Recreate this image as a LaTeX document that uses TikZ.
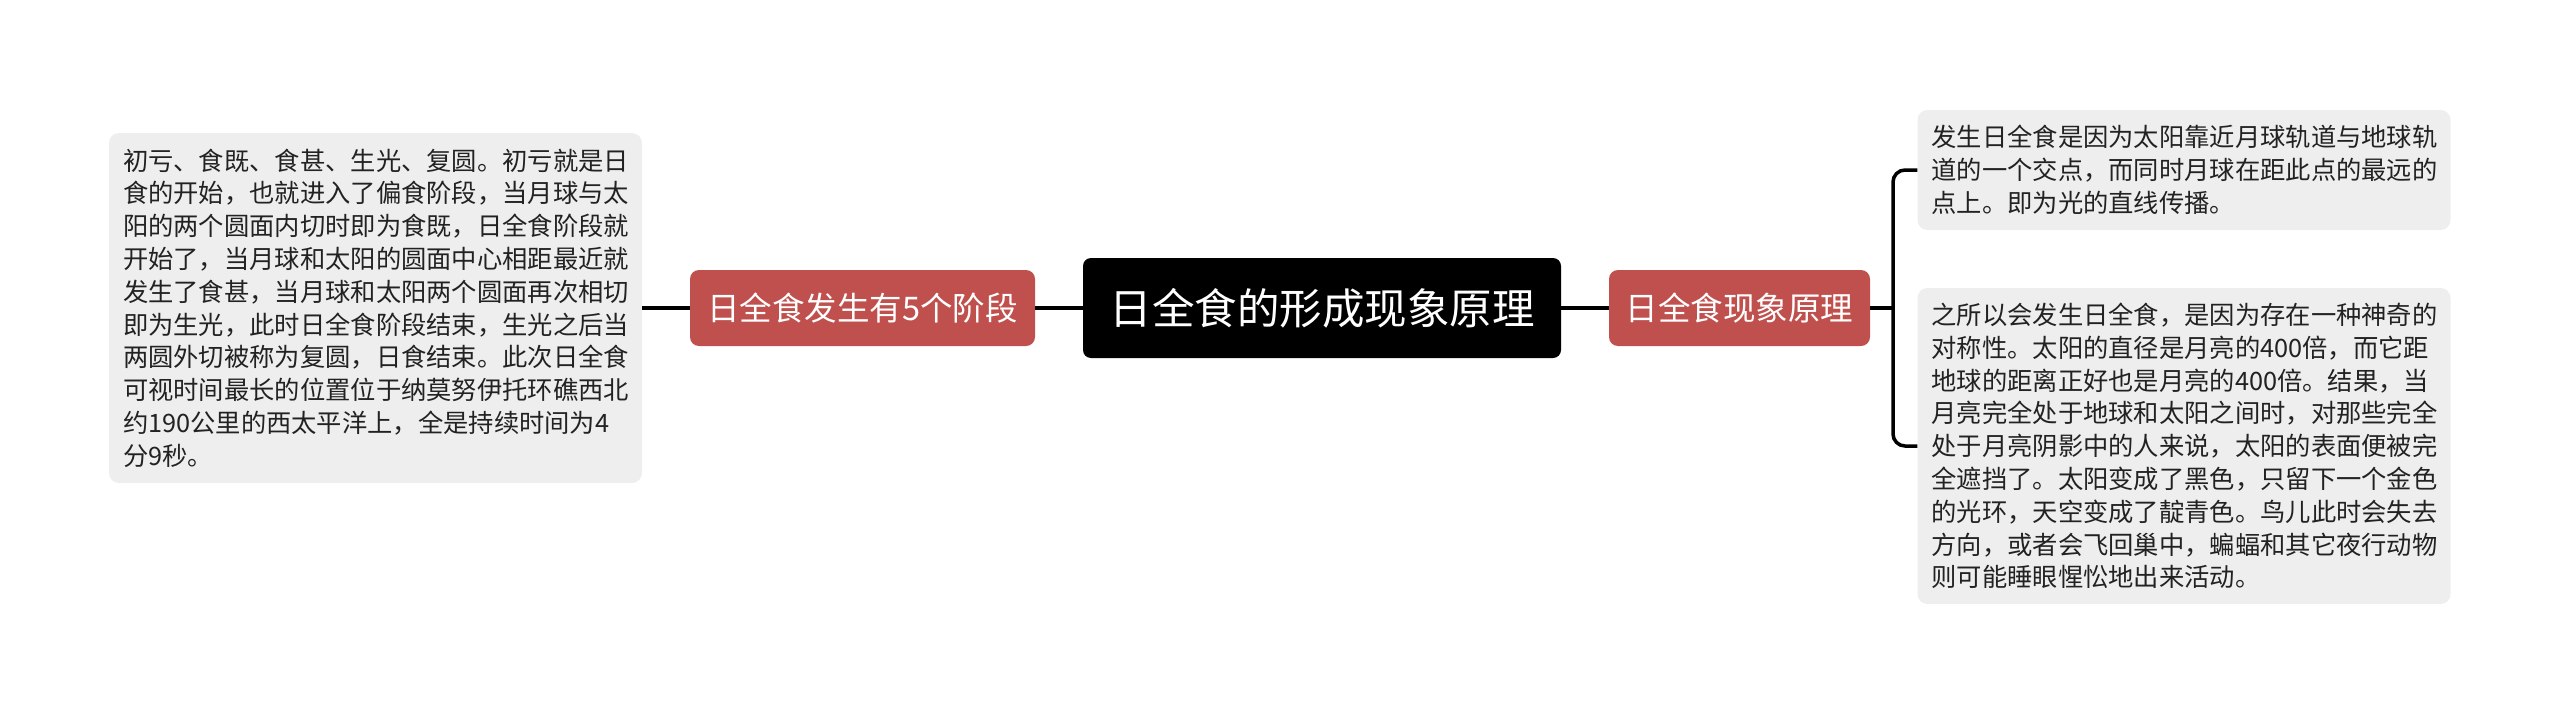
\documentclass[tikz,border=0pt]{standalone}
\usepackage{fontspec}
\newfontfamily\cjk{Noto Sans CJK SC}
\usepackage{tikz}
\definecolor{topicred}{HTML}{C0504D}
\definecolor{notegray}{HTML}{EEEEEE}
\definecolor{notetext}{HTML}{222222}

\begin{document}
\begin{tikzpicture}[x=1pt, y=-1pt,
    rootbox/.style={fill=black, text=white, rounded corners=8pt, minimum width=478pt, minimum height=100pt, inner sep=0pt, font=\cjk\fontsize{42.5}{48}\selectfont},
    topicbox/.style={fill=topicred, text=white, rounded corners=9pt, minimum height=76pt, inner sep=0pt, font=\cjk\fontsize{32.5}{36}\selectfont},
    notebox/.style={fill=notegray, text=notetext, rounded corners=10pt, minimum width=533pt, inner xsep=14pt, inner ysep=0pt, text width=505pt, align=left, font=\cjk\fontsize{25.3}{32.8}\selectfont},
    link/.style={draw=black, line width=3.5pt}]
    \useasboundingbox (0,0) rectangle (2560,715);

    % central topic and the two branches
    \node[rootbox] (root) at (1322, 308) {日全食的形成现象原理};
    \node[topicbox, minimum width=345pt] (stages) at (862.5, 308) {日全食发生有5个阶段};
    \node[topicbox, minimum width=261pt] (cause) at (1739.5, 308) {日全食现象原理};

    % notes
    \node[notebox, minimum height=350pt] (stagesnote) at (375.5, 308) {初亏、食既、食甚、生光、复圆。初亏就是日\\食的开始，也就进入了偏食阶段，当月球与太\\阳的两个圆面内切时即为食既，日全食阶段就\\开始了，当月球和太阳的圆面中心相距最近就\\发生了食甚，当月球和太阳两个圆面再次相切\\即为生光，此时日全食阶段结束，生光之后当\\两圆外切被称为复圆，日食结束。此次日全食\\可视时间最长的位置位于纳莫努伊托环礁西北\\约190公里的西太平洋上，全是持续时间为4\\分9秒。};
    \node[notebox, minimum height=120pt] (causenote1) at (2184, 170) {发生日全食是因为太阳靠近月球轨道与地球轨\\道的一个交点，而同时月球在距此点的最远的\\点上。即为光的直线传播。};
    \node[notebox, minimum height=316pt] (causenote2) at (2184, 446) {之所以会发生日全食，是因为存在一种神奇的\\对称性。太阳的直径是月亮的400倍，而它距\\地球的距离正好也是月亮的400倍。结果，当\\月亮完全处于地球和太阳之间时，对那些完全\\处于月亮阴影中的人来说，太阳的表面便被完\\全遮挡了。太阳变成了黑色，只留下一个金色\\的光环，天空变成了靛青色。鸟儿此时会失去\\方向，或者会飞回巢中，蝙蝠和其它夜行动物\\则可能睡眼惺忪地出来活动。};

    % connectors
    \coordinate (fork) at (1893, 308);
    \draw[link] (stagesnote.east) -- (stages.west);
    \draw[link] (stages.east) -- (root.west);
    \draw[link] (root.east) -- (cause.west);
    \draw[link] (cause.east) -- (fork);
    \draw[link, rounded corners=12pt] (fork) |- (causenote1.west);
    \draw[link, rounded corners=12pt] (fork) |- (causenote2.west);
\end{tikzpicture}
\end{document}
